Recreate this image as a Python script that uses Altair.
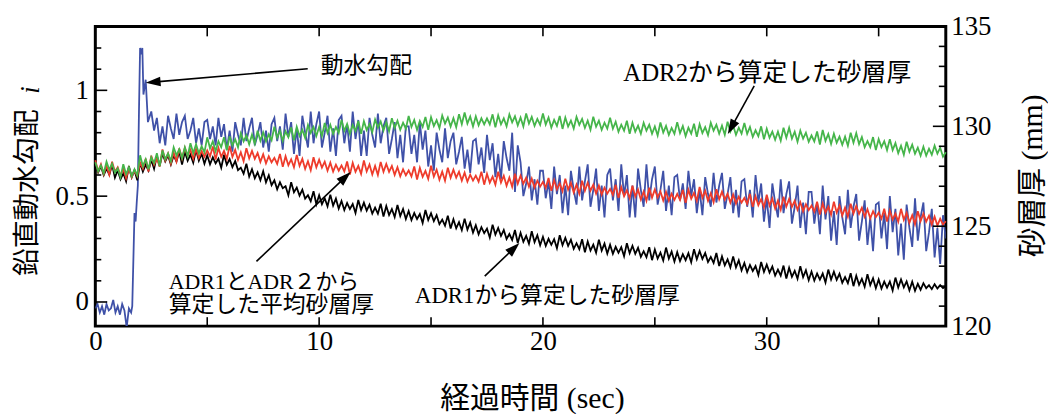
import math
import altair as alt
import pandas as pd

# ---------------- data ----------------
# sand-layer thickness series, sampled every 0.125 s from 0 to 38 s (mm)
t_thk = [round(0.125 * k, 3) for k in range(305)]

green_mm = [
    128.2, 127.75, 128.05, 127.65, 128.23, 127.83, 128.13, 127.68,
    127.9, 127.45, 128.1, 127.6, 127.95, 127.5, 127.85, 127.55,
    128.55, 128.0, 128.35, 127.85, 128.45, 128.15, 128.65, 128.0,
    128.8, 128.35, 128.65, 128.25, 128.95, 128.55, 128.85, 128.4,
    128.95, 128.5, 129.15, 128.65, 129.1, 128.65, 129.0, 128.7,
    129.45, 128.9, 129.25, 128.75, 129.25, 128.95, 129.45, 128.8,
    129.5, 129.05, 129.35, 128.95, 129.65, 129.25, 129.55, 129.1,
    129.58, 129.13, 129.78, 129.28, 129.7, 129.25, 129.6, 129.3,
    129.98, 129.43, 129.78, 129.28, 129.75, 129.45, 129.95, 129.3,
    129.97, 129.52, 129.82, 129.42, 130.07, 129.67, 129.97, 129.52,
    129.97, 129.52, 130.17, 129.67, 130.07, 129.62, 129.97, 129.67,
    130.32, 129.77, 130.12, 129.62, 130.07, 129.77, 130.27, 129.62,
    130.26, 129.81, 130.11, 129.71, 130.34, 129.94, 130.24, 129.79,
    130.21, 129.76, 130.41, 129.91, 130.28, 129.83, 130.18, 129.88,
    130.52, 129.97, 130.32, 129.82, 130.27, 129.97, 130.47, 129.82,
    130.46, 130.01, 130.31, 129.91, 130.54, 130.14, 130.44, 129.99,
    130.41, 129.96, 130.61, 130.11, 130.69, 130.14, 130.49, 129.99,
    130.5, 130.05, 130.4, 130.1, 130.4, 130.1, 130.6, 129.95,
    130.55, 130.1, 130.4, 130.0, 130.6, 130.2, 130.5, 130.05,
    130.44, 129.99, 130.64, 130.14, 130.47, 130.02, 130.37, 130.07,
    130.64, 130.09, 130.44, 129.94, 130.32, 130.02, 130.52, 129.87,
    130.44, 129.99, 130.29, 129.89, 130.47, 130.07, 130.37, 129.92,
    130.28, 129.83, 130.48, 129.98, 130.28, 129.83, 130.18, 129.88,
    130.43, 129.88, 130.23, 129.73, 130.08, 129.78, 130.28, 129.63,
    130.18, 129.73, 130.03, 129.63, 130.18, 129.78, 130.08, 129.63,
    129.99, 129.54, 130.19, 129.69, 130.02, 129.57, 129.92, 129.62,
    130.21, 129.66, 130.01, 129.51, 129.93, 129.63, 130.13, 129.48,
    130.11, 129.66, 129.96, 129.56, 130.18, 129.78, 130.08, 129.63,
    130.03, 129.58, 130.23, 129.73, 130.03, 129.58, 129.93, 129.63,
    130.17, 129.62, 129.97, 129.47, 129.8, 129.5, 130.0, 129.35,
    129.88, 129.43, 129.73, 129.33, 129.73, 129.28, 129.93, 129.43,
    129.93, 129.38, 129.73, 129.23, 129.78, 129.38, 129.68, 129.23,
    129.54, 129.24, 129.74, 129.09, 129.82, 129.27, 129.62, 129.12,
    129.63, 129.18, 129.48, 129.08, 129.48, 129.03, 129.68, 129.18,
    129.66, 129.11, 129.46, 128.96, 129.26, 128.96, 129.46, 128.81,
    129.36, 128.96, 129.26, 128.81, 129.36, 128.81, 129.16, 128.66,
    129.03, 128.58, 129.23, 128.73, 129.08, 128.63, 128.93, 128.53,
    128.98, 128.53, 128.88, 128.58, 129.03, 128.63, 128.93, 128.48,
    128.7,
]

black_mm = [
    128.1, 127.7, 128.0, 127.55, 127.88, 127.58, 128.08, 127.43,
    127.8, 127.35, 127.65, 127.25, 128.0, 127.45, 127.8, 127.3,
    128.18, 127.73, 128.08, 127.78, 128.33, 127.88, 128.53, 128.03,
    128.64, 128.24, 128.54, 128.09, 128.54, 128.24, 128.74, 128.09,
    128.73, 128.28, 128.58, 128.18, 128.83, 128.28, 128.63, 128.13,
    128.55, 128.1, 128.45, 128.15, 128.38, 127.93, 128.58, 128.08,
    128.36, 127.96, 128.26, 127.81, 127.93, 127.63, 128.13, 127.48,
    127.85, 127.4, 127.7, 127.3, 127.75, 127.2, 127.55, 127.05,
    127.3, 126.85, 127.2, 126.9, 127.0, 126.55, 127.2, 126.7,
    126.93, 126.53, 126.83, 126.38, 126.55, 126.25, 126.75, 126.1,
    126.55, 126.1, 126.4, 126.0, 126.58, 126.03, 126.38, 125.88,
    126.26, 125.81, 126.16, 125.86, 126.11, 125.66, 126.31, 125.81,
    126.18, 125.78, 126.08, 125.63, 125.93, 125.63, 126.13, 125.48,
    126.01, 125.56, 125.86, 125.46, 126.06, 125.51, 125.86, 125.36,
    125.76, 125.31, 125.66, 125.36, 125.61, 125.16, 125.81, 125.31,
    125.65, 125.25, 125.55, 125.1, 125.33, 125.03, 125.53, 124.88,
    125.35, 124.9, 125.2, 124.8, 125.38, 124.83, 125.18, 124.68,
    125.05, 124.6, 124.95, 124.65, 124.88, 124.43, 125.08, 124.58,
    124.91, 124.51, 124.81, 124.36, 124.61, 124.31, 124.81, 124.16,
    124.67, 124.22, 124.52, 124.12, 124.75, 124.2, 124.55, 124.05,
    124.47, 124.02, 124.37, 124.07, 124.35, 123.9, 124.55, 124.05,
    124.42, 124.02, 124.32, 123.87, 124.15, 123.85, 124.35, 123.7,
    124.23, 123.78, 124.08, 123.68, 124.33, 123.78, 124.13, 123.63,
    124.07, 123.62, 123.97, 123.67, 123.95, 123.5, 124.15, 123.65,
    124.02, 123.62, 123.92, 123.47, 123.75, 123.45, 123.95, 123.3,
    123.83, 123.38, 123.68, 123.28, 123.93, 123.38, 123.73, 123.23,
    123.7, 123.25, 123.6, 123.3, 123.65, 123.2, 123.85, 123.35,
    123.76, 123.36, 123.66, 123.21, 123.46, 123.16, 123.66, 123.01,
    123.49, 123.04, 123.34, 122.94, 123.49, 122.94, 123.29, 122.79,
    123.16, 122.71, 123.06, 122.76, 123.01, 122.56, 123.21, 122.71,
    123.08, 122.68, 122.98, 122.53, 122.83, 122.53, 123.03, 122.38,
    122.92, 122.47, 122.77, 122.37, 123.0, 122.45, 122.8, 122.3,
    122.73, 122.28, 122.63, 122.33, 122.63, 122.18, 122.83, 122.33,
    122.72, 122.32, 122.62, 122.17, 122.45, 122.15, 122.65, 122.0,
    122.52, 122.07, 122.37, 121.97, 122.6, 122.05, 122.4, 121.9,
    122.33, 121.88, 122.23, 121.93, 122.23, 121.78, 122.43, 121.93,
    122.34, 121.94, 122.24, 121.79, 122.22, 121.77, 122.12, 121.82,
    122.15, 121.9, 122.05, 121.85, 122.1, 121.88, 122.05, 121.9,
    122.0,
]

red_mm = [
    128.3, 127.75, 128.1, 127.6, 128.03, 127.58, 128.23, 127.73,
    127.95, 127.55, 127.85, 127.4, 127.9, 127.45, 127.8, 127.5,
    128.18, 127.88, 128.38, 127.73, 128.53, 128.08, 128.38, 127.98,
    128.84, 128.29, 128.64, 128.14, 128.69, 128.24, 128.89, 128.39,
    128.92, 128.52, 128.82, 128.37, 128.87, 128.42, 128.77, 128.47,
    128.79, 128.49, 128.99, 128.34, 128.92, 128.47, 128.77, 128.37,
    129.02, 128.47, 128.82, 128.32, 128.7, 128.25, 128.9, 128.4,
    128.77, 128.37, 128.67, 128.22, 128.6, 128.15, 128.5, 128.2,
    128.42, 128.12, 128.62, 127.97, 128.5, 128.05, 128.35, 127.95,
    128.57, 128.02, 128.37, 127.87, 128.25, 127.8, 128.45, 127.95,
    128.33, 127.93, 128.23, 127.78, 128.18, 127.73, 128.08, 127.78,
    128.04, 127.74, 128.24, 127.59, 128.17, 127.72, 128.02, 127.62,
    128.29, 127.74, 128.09, 127.59, 128.02, 127.57, 128.22, 127.72,
    128.12, 127.72, 128.02, 127.57, 127.95, 127.5, 127.85, 127.55,
    127.79, 127.49, 127.99, 127.34, 127.92, 127.47, 127.77, 127.37,
    128.03, 127.48, 127.83, 127.33, 127.73, 127.28, 127.93, 127.43,
    127.83, 127.43, 127.73, 127.28, 127.68, 127.23, 127.58, 127.28,
    127.53, 127.23, 127.73, 127.08, 127.63, 127.18, 127.48, 127.08,
    127.73, 127.18, 127.53, 127.03, 127.43, 126.98, 127.63, 127.13,
    127.53, 127.13, 127.43, 126.98, 127.38, 126.93, 127.28, 126.98,
    127.22, 126.92, 127.42, 126.77, 127.3, 126.85, 127.15, 126.75,
    127.38, 126.83, 127.18, 126.68, 127.08, 126.63, 127.28, 126.78,
    127.18, 126.78, 127.08, 126.63, 127.03, 126.58, 126.93, 126.63,
    126.87, 126.57, 127.07, 126.42, 126.95, 126.5, 126.8, 126.4,
    127.03, 126.48, 126.83, 126.33, 126.73, 126.28, 126.93, 126.43,
    126.84, 126.44, 126.74, 126.29, 126.72, 126.27, 126.62, 126.32,
    126.62, 126.32, 126.82, 126.17, 126.82, 126.37, 126.67, 126.27,
    126.97, 126.42, 126.77, 126.27, 126.65, 126.2, 126.85, 126.35,
    126.73, 126.33, 126.63, 126.18, 126.58, 126.13, 126.48, 126.18,
    126.42, 126.12, 126.62, 125.97, 126.5, 126.05, 126.35, 125.95,
    126.58, 126.03, 126.38, 125.88, 126.28, 125.83, 126.48, 125.98,
    126.37, 125.97, 126.27, 125.82, 126.2, 125.75, 126.1, 125.8,
    126.03, 125.73, 126.23, 125.58, 126.13, 125.68, 125.98, 125.58,
    126.23, 125.68, 126.03, 125.53, 125.93, 125.48, 126.13, 125.63,
    126.02, 125.62, 125.92, 125.47, 125.85, 125.4, 125.75, 125.45,
    125.68, 125.38, 125.88, 125.23, 125.78, 125.33, 125.63, 125.23,
    125.87, 125.32, 125.67, 125.17, 125.55, 125.1, 125.75, 125.25,
    125.63, 125.23, 125.53, 125.08, 125.48, 125.03, 125.38, 125.08,
    125.25,
]

# vertical hydraulic gradient i (left axis)
t_blue = ([round(0.1 * k, 2) for k in range(17)]
          + [1.65, 1.7, 1.75, 1.8, 1.85, 1.9, 1.95, 2.0, 2.05, 2.1, 2.15, 2.25, 2.35]
          + [round(2.5 + 0.125 * k, 3) for k in range(285)])

blue_i = [
    -0.03, -0.01, -0.05, -0.02, -0.06, -0.01, -0.04, -0.03, 0.01, -0.05,
    -0.02, -0.06, -0.01, -0.04, -0.12, -0.03, -0.05,
    -0.02, 0.2, 0.42, 0.38, 0.47, 0.55, 0.9, 1.2, 1.17, 1.2, 0.98, 1.05, 0.85,
    0.9, 0.81, 0.87, 0.75,
    0.83, 0.74, 0.88, 0.82, 0.77, 0.89, 0.79, 0.85,
    0.88, 0.77, 0.81, 0.87, 0.75, 0.82, 0.74, 0.85,
    0.86, 0.77, 0.83, 0.74, 0.87, 0.78, 0.84, 0.72,
    0.81, 0.71, 0.85, 0.79, 0.74, 0.87, 0.76, 0.82,
    0.87, 0.74, 0.79, 0.85, 0.73, 0.81, 0.71, 0.84,
    0.87, 0.76, 0.83, 0.72, 0.89, 0.78, 0.85, 0.70,
    0.82, 0.69, 0.88, 0.80, 0.73, 0.90, 0.75, 0.84,
    0.90, 0.73, 0.80, 0.88, 0.71, 0.82, 0.69, 0.86,
    0.88, 0.75, 0.84, 0.71, 0.90, 0.77, 0.86, 0.69,
    0.81, 0.69, 0.87, 0.79, 0.73, 0.89, 0.75, 0.83,
    0.87, 0.70, 0.77, 0.85, 0.68, 0.79, 0.66, 0.83,
    0.83, 0.70, 0.79, 0.66, 0.85, 0.72, 0.81, 0.64,
    0.74, 0.62, 0.80, 0.72, 0.66, 0.82, 0.68, 0.76,
    0.80, 0.65, 0.71, 0.78, 0.63, 0.72, 0.61, 0.76,
    0.77, 0.65, 0.73, 0.61, 0.79, 0.67, 0.75, 0.59,
    0.70, 0.58, 0.76, 0.68, 0.62, 0.80, 0.52, 0.74,
    0.66, 0.50, 0.56, 0.64, 0.48, 0.58, 0.46, 0.62,
    0.62, 0.49, 0.57, 0.44, 0.64, 0.51, 0.60, 0.42,
    0.55, 0.41, 0.62, 0.53, 0.46, 0.64, 0.48, 0.57,
    0.65, 0.45, 0.53, 0.63, 0.43, 0.55, 0.40, 0.60,
    0.63, 0.48, 0.58, 0.43, 0.65, 0.50, 0.60, 0.40,
    0.55, 0.40, 0.63, 0.53, 0.45, 0.65, 0.48, 0.58,
    0.64, 0.46, 0.53, 0.62, 0.43, 0.55, 0.41, 0.59,
    0.60, 0.48, 0.56, 0.44, 0.62, 0.50, 0.58, 0.42,
    0.53, 0.41, 0.59, 0.51, 0.45, 0.61, 0.47, 0.55,
    0.61, 0.44, 0.51, 0.59, 0.42, 0.53, 0.40, 0.57,
    0.58, 0.45, 0.53, 0.40, 0.60, 0.47, 0.56, 0.38,
    0.49, 0.35, 0.56, 0.47, 0.40, 0.58, 0.42, 0.51,
    0.57, 0.37, 0.45, 0.55, 0.35, 0.47, 0.32, 0.52,
    0.52, 0.37, 0.47, 0.32, 0.55, 0.39, 0.50, 0.29,
    0.43, 0.27, 0.50, 0.40, 0.32, 0.53, 0.35, 0.45,
    0.51, 0.29, 0.38, 0.48, 0.27, 0.40, 0.24, 0.46,
    0.47, 0.30, 0.42, 0.25, 0.50, 0.33, 0.44, 0.22,
    0.37, 0.20, 0.46, 0.35, 0.26, 0.49, 0.29, 0.40,
    0.47, 0.24, 0.33, 0.44, 0.21, 0.35, 0.18, 0.41,
    0.30,
]

# annotations (text anchored at left-middle, in data units: seconds / mm)
ann_text = ["動水勾配", "ADR2から算定した砂層厚", "ADR1とADR２から",
            "算定した平均砂層厚", "ADR1から算定した砂層厚"]
ann_t = [10.07, 23.59, 3.28, 3.28, 14.28]
ann_mm = [133.01, 132.67, 122.19, 121.04, 121.49]
ann_fs = [23, 25, 22, 23, 23]

# arrows: start (t0, mm0) -> tip (t1, mm1)
arr_t0 = [9.49, 29.44, 7.20, 17.40]
arr_mm0 = [132.88, 132.02, 123.24, 122.50]
arr_t1 = [2.25, 28.26, 11.41, 18.95]
arr_mm1 = [132.18, 129.62, 127.71, 124.16]

# axis labels and tick positions
x_labels = [0, 10, 20, 30]
x_ticks = [5, 10, 15, 20, 25, 30, 35]
i_labels = [0, 0.5, 1]
i_minor = [0.1, 0.2, 0.3, 0.4, 0.6, 0.7, 0.8, 0.9, 1.1, 1.2]
mm_labels = [120, 125, 130, 135]
mm_major = [125, 130]
mm_minor = [121, 122, 123, 124, 126, 127, 128, 129, 131, 132, 133, 134]

# ---------------- layout / style ----------------
W, H = 857, 302
T_DOM = [0, 38]
I_DOM = [-0.114, 1.302]
MM_DOM = [120, 135]
SERIF = "Liberation Serif"
MIX = "'Liberation Serif', 'Noto Sans CJK JP'"
CJK = "Noto Sans CJK JP"
BLUE, RED, GREEN, BLACK = "#3F51A8", "#EE3B2B", "#45B54A", "#000000"
LW = 1.8
LABEL_FS = 27
TITLE_FS = 29

xscale = alt.Scale(domain=T_DOM, nice=False, zero=False)
iscale = alt.Scale(domain=I_DOM, nice=False, zero=False)
mmscale = alt.Scale(domain=MM_DOM, nice=False, zero=False)

n = min(len(t_thk), len(green_mm), len(black_mm), len(red_mm))
df_thk = pd.DataFrame({"t": t_thk[:n], "green": green_mm[:n],
                       "black": black_mm[:n], "red": red_mm[:n]})
nb = min(len(t_blue), len(blue_i))
df_blue = pd.DataFrame({"t": t_blue[:nb], "v": blue_i[:nb]})

x_label_axis = alt.Axis(orient="bottom", values=x_labels, format="d", ticks=False,
                        tickSize=0, domain=False, grid=False, labelFont=SERIF,
                        labelFontSize=LABEL_FS, labelPadding=3, labelFlush=False,
                        labelColor="black", labelOverlap=False,
                        title="経過時間 (sec)", titleFont=MIX, titleFontSize=TITLE_FS + 1,
                        titleFontWeight="normal", titleColor="black",
                        titleX=440, titleY=73, titleBaseline="middle",
                        titleAlign="center")

i_label_axis = alt.Axis(orient="left", values=i_labels, format="~g", ticks=False,
                        tickSize=0, domain=False, grid=False, labelFont=SERIF,
                        labelFontSize=LABEL_FS, labelPadding=7, labelColor="black",
                        labelOverlap=False, labelFlush=False,
                        title="鉛直動水勾配", titleFont=CJK, titleFontSize=TITLE_FS - 1,
                        titleFontWeight="normal", titleColor="black",
                        titleX=-68, titleY=167, titleAngle=270,
                        titleBaseline="middle", titleAlign="center")

mm_label_axis = alt.Axis(orient="right", values=mm_labels, format="d", ticks=False,
                         tickSize=0, domain=False, grid=False, labelFont=SERIF,
                         labelFontSize=LABEL_FS, labelPadding=5, labelColor="black",
                         labelOverlap=False, labelFlush=False,
                         title="砂層厚 (mm)", titleFont=MIX, titleFontSize=TITLE_FS + 1,
                         titleFontWeight="normal", titleColor="black",
                         titleX=87, titleY=150, titleAngle=270,
                         titleBaseline="middle", titleAlign="center")

# blue hydraulic gradient (left scale)
blue = alt.Chart(df_blue).mark_line(color=BLUE, strokeWidth=LW, clip=True).encode(
    x=alt.X("t:Q", scale=xscale, axis=x_label_axis),
    y=alt.Y("v:Q", scale=iscale, axis=i_label_axis),
)


def thk_line(col, color, axis):
    return alt.Chart(df_thk).mark_line(color=color, strokeWidth=LW).encode(
        x=alt.X("t:Q", scale=xscale, axis=None),
        y=alt.Y(f"{col}:Q", scale=mmscale, axis=axis),
    )


black = thk_line("black", BLACK, mm_label_axis)
red = thk_line("red", RED, None)
green = thk_line("green", GREEN, None)


# inward tick marks (short segments placed through the scales)
def yticks(values, scale, x0, x1):
    return alt.Chart(pd.DataFrame({"v": values})).mark_rule(
        color="black", strokeWidth=1.6).encode(
        y=alt.Y("v:Q", scale=scale, axis=None), y2="v:Q",
        x=alt.value(x0), x2=alt.value(x1))


def xticks(values, y0, y1):
    return alt.Chart(pd.DataFrame({"t": values})).mark_rule(
        color="black", strokeWidth=1.6).encode(
        x=alt.X("t:Q", scale=xscale, axis=None), x2="t:Q",
        y=alt.value(y0), y2=alt.value(y1))


tick_layers = [
    yticks(i_labels, iscale, 0, 12),
    yticks(i_minor, iscale, 0, 6),
    yticks(mm_major, mmscale, W, W - 13),
    yticks(mm_minor, mmscale, W, W - 7),
    xticks(x_ticks, H, H - 9),
    xticks(x_ticks, 0, 10),
]

# annotations
df_ann = pd.DataFrame({"t": ann_t, "mm": ann_mm, "label": ann_text, "fs": ann_fs})
texts = alt.Chart(df_ann).mark_text(align="left", baseline="middle", font=MIX,
                                    color="black").encode(
    x=alt.X("t:Q", scale=xscale, axis=None),
    y=alt.Y("mm:Q", scale=mmscale, axis=None),
    text="label:N",
    size=alt.Size("fs:Q", scale=None, legend=None),
)

# italic "i" of the left axis title
df_i = pd.DataFrame({"t": [-2.85], "mm": [131.82], "label": ["i"]})
italic_i = alt.Chart(df_i).mark_text(font=SERIF, fontStyle="italic", fontSize=27,
                                     angle=270, align="center", baseline="middle",
                                     color="black").encode(
    x=alt.X("t:Q", scale=xscale, axis=None),
    y=alt.Y("mm:Q", scale=mmscale, axis=None),
    text="label:N",
)

# arrows
kx = W / (T_DOM[1] - T_DOM[0])
ky = H / (MM_DOM[1] - MM_DOM[0])
HEAD = 15
rows = []
for a0, b0, a1, b1 in zip(arr_t0, arr_mm0, arr_t1, arr_mm1):
    dx = (a1 - a0) * kx
    dy = -(b1 - b0) * ky
    L = math.hypot(dx, dy)
    ux, uy = dx / L, dy / L
    tc = a1 - (HEAD / 2) * ux / kx
    mc = b1 + (HEAD / 2) * uy / ky
    ang = math.degrees(math.atan2(ux, -uy)) % 360
    rows.append({"t0": a0, "m0": b0, "tc": tc, "mc": mc, "ang": ang})
df_arr = pd.DataFrame(rows)

arrow_lines = alt.Chart(df_arr).mark_rule(color="black", strokeWidth=1.6).encode(
    x=alt.X("t0:Q", scale=xscale, axis=None),
    y=alt.Y("m0:Q", scale=mmscale, axis=None),
    x2="tc:Q",
    y2="mc:Q",
)
arrow_heads = alt.Chart(df_arr).mark_point(
    shape="M0,-1L0.65,1L-0.65,1Z", filled=True, color="black", opacity=1,
    size=HEAD * HEAD, strokeWidth=0).encode(
    x=alt.X("tc:Q", scale=xscale, axis=None),
    y=alt.Y("mc:Q", scale=mmscale, axis=None),
    angle=alt.Angle("ang:Q", scale=None),
)

chart = alt.layer(
    blue, black, red, green, *tick_layers,
    arrow_lines, arrow_heads, texts, italic_i,
).resolve_scale(y="independent").resolve_axis(x="independent", y="independent").properties(
    width=W, height=H,
    padding={"left": 88, "top": 17, "right": 103, "bottom": 87},
    autosize=alt.AutoSizeParams(type="none"),
    background="white",
).configure_view(stroke="black", strokeWidth=3)

chart.save("out.html", embed_options={"renderer": "svg", "actions": False})
